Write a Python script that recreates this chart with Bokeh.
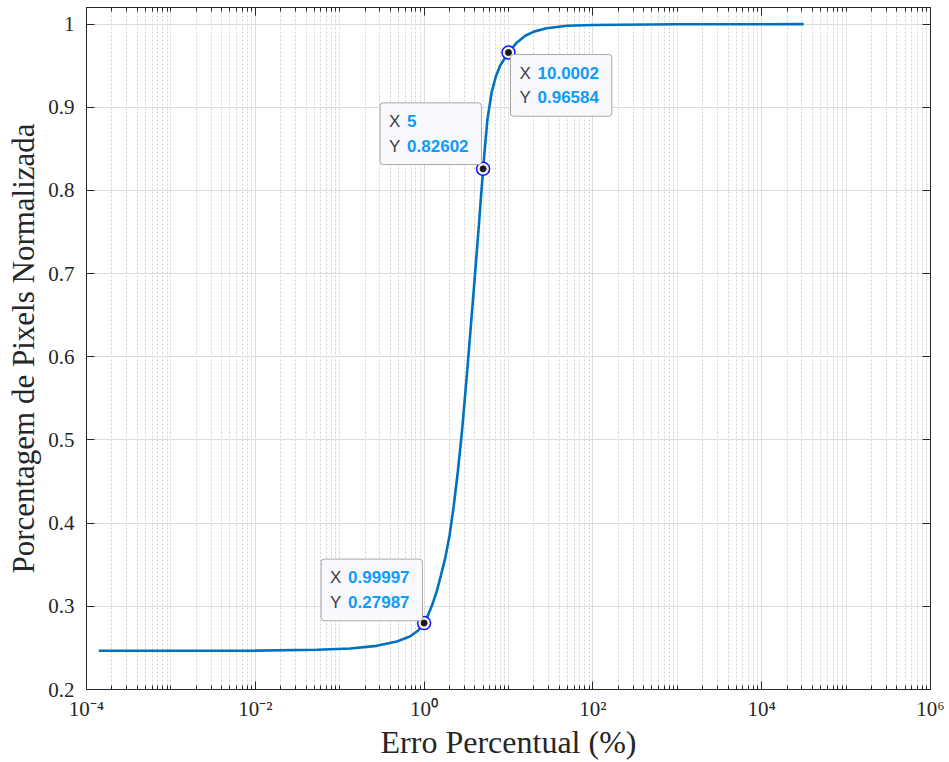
from bokeh.plotting import figure
from bokeh.models import (Range1d, FixedTicker, LogAxis, LinearAxis, ColumnDataSource)
from bokeh.core.properties import value
from bokeh.embed import file_html
from bokeh.resources import INLINE

# ---- data ----
erro_x = [1.4e-4, 1e-3, 1e-2, 0.054, 0.133, 0.275, 0.475, 0.68, 0.85, 0.99997,
          1.12, 1.26, 1.41, 1.58, 1.78, 2.0, 2.24, 2.51, 2.82, 3.16, 3.55, 3.98, 4.47,
          5.0, 5.62, 6.31, 7.08, 7.94, 10.0002, 12.6, 15.8, 20.0, 28.2, 50.0, 100.0,
          1000.0, 31400.0]
pct_y = [0.2466, 0.2466, 0.2467, 0.2478, 0.2493, 0.2525, 0.2577, 0.2637, 0.2710, 0.27987,
         0.290, 0.303, 0.318, 0.337, 0.358, 0.385, 0.420, 0.462, 0.512, 0.570, 0.632, 0.695, 0.760,
         0.82602, 0.885, 0.918, 0.937, 0.950, 0.96584, 0.978, 0.986, 0.991, 0.995, 0.998, 0.999,
         0.9998, 1.0]

tip_x = [0.99997, 5, 10.0002]
tip_y = [0.27987, 0.82602, 0.96584]
tip_dx = [-103, -103, 2]      # screen offset of the tip box (top-left) from its point
tip_dy = [-64, -66, 2]

x_major = [1e-4, 1e-2, 1e0, 1e2, 1e4, 1e6]
x_major_labels = ["10\u207b\u2074", "10\u207b\u00b2", "10\u2070", "10\u00b2", "10\u2074", "10\u2076"]
y_ticks = [0.2, 0.3, 0.4, 0.5, 0.6, 0.7, 0.8, 0.9, 1.0]
y_tick_labels = ["0.2", "0.3", "0.4", "0.5", "0.6", "0.7", "0.8", "0.9", "1"]

x_minor = [k * 10.0 ** n for n in range(-4, 6) for k in range(1, 10)
           if not (k == 1 and n % 2 == 0)]

AX = "#262626"
SERIF = "Liberation Serif"

p = figure(width=949, height=762, x_axis_type="log",
           x_range=Range1d(1e-4, 1e6), y_range=Range1d(0.2, 1.02),
           output_backend="svg", toolbar_location=None,
           min_border_left=86, min_border_right=19, min_border_top=7, min_border_bottom=69)
p.background_fill_color = "white"
p.border_fill_color = "white"
p.outline_line_color = AX
p.outline_line_width = 1

xt = FixedTicker(ticks=x_major, minor_ticks=x_minor)
yt = FixedTicker(ticks=y_ticks, minor_ticks=[])


def style_axis(ax):
    ax.axis_line_color = AX
    ax.major_tick_line_color = AX
    ax.minor_tick_line_color = AX
    ax.major_tick_in = 8
    ax.major_tick_out = 0
    ax.minor_tick_in = 4
    ax.minor_tick_out = 0
    ax.major_label_text_font = SERIF
    ax.major_label_text_font_size = "21px"
    ax.major_label_text_color = AX
    ax.axis_label_text_font = SERIF
    ax.axis_label_text_font_style = "normal"
    ax.axis_label_text_font_size = "32px"
    ax.axis_label_text_color = AX


xa = p.xaxis[0]
xa.ticker = xt
xa.major_label_overrides = {t: s for t, s in zip(x_major, x_major_labels)}
style_axis(xa)
xa.major_label_standoff = 7
xa.axis_label = "Erro Percentual (%)"
xa.axis_label_standoff = 0

ya = p.yaxis[0]
ya.ticker = yt
ya.major_label_overrides = {t: s for t, s in zip(y_ticks, y_tick_labels)}
style_axis(ya)
ya.axis_label_text_font_size = "31px"
ya.major_label_standoff = 12
ya.axis_label = "Porcentagem de Pixels Normalizada"
ya.axis_label_standoff = 4

top = LogAxis(ticker=xt, major_label_overrides={t: "" for t in x_major})
style_axis(top)
top.major_label_standoff = 0
p.add_layout(top, "above")

right = LinearAxis(ticker=yt, major_label_overrides={t: "" for t in y_ticks})
style_axis(right)
right.major_label_standoff = 0
p.add_layout(right, "right")

p.xgrid.ticker = xt
p.xgrid.grid_line_color = "#dcdcdc"
p.xgrid.grid_line_width = 1
p.xgrid.minor_grid_line_color = "#d2d2d2"
p.xgrid.minor_grid_line_dash = "2 2"
p.ygrid.ticker = yt
p.ygrid.grid_line_color = "#dcdcdc"

p.line(erro_x, pct_y, line_color="#0072BD", line_width=2.6)

src = ColumnDataSource(dict(
    x=tip_x, y=tip_y, dx=tip_dx, dy=tip_dy,
    lab=["X\nY"] * len(tip_x),
    val=[f"{a:g}\n{b:g}" for a, b in zip(tip_x, tip_y)],
))

p.scatter("x", "y", source=src, size=13, fill_color="#f4f4ea", line_color="#1010ff", line_width=1.5)
p.scatter("x", "y", source=src, size=6, fill_color="#1a1a1a", line_color="#1a1a1a")

p.text("x", "y", text="lab", source=src, x_offset="dx", y_offset="dy",
       anchor="top_left", text_font=value("Liberation Sans"), text_font_size="17px",
       text_color="#404040", text_line_height=1.3,
       padding=dict(left=9, right=81, top=9, bottom=9), border_radius=3,
       background_fill_color="#f8f8fd", border_line_color="#a8a8a8", border_line_width=1)
p.text("x", "y", text="val", source=src, x_offset="dx", y_offset="dy",
       anchor="top_left", text_font=value("Liberation Sans"), text_font_size="17px",
       text_font_style="bold", text_color="#0f9bf7", text_line_height=1.3,
       padding=dict(left=27, right=0, top=9, bottom=9))

open("out.html", "w").write(file_html(p, INLINE))
